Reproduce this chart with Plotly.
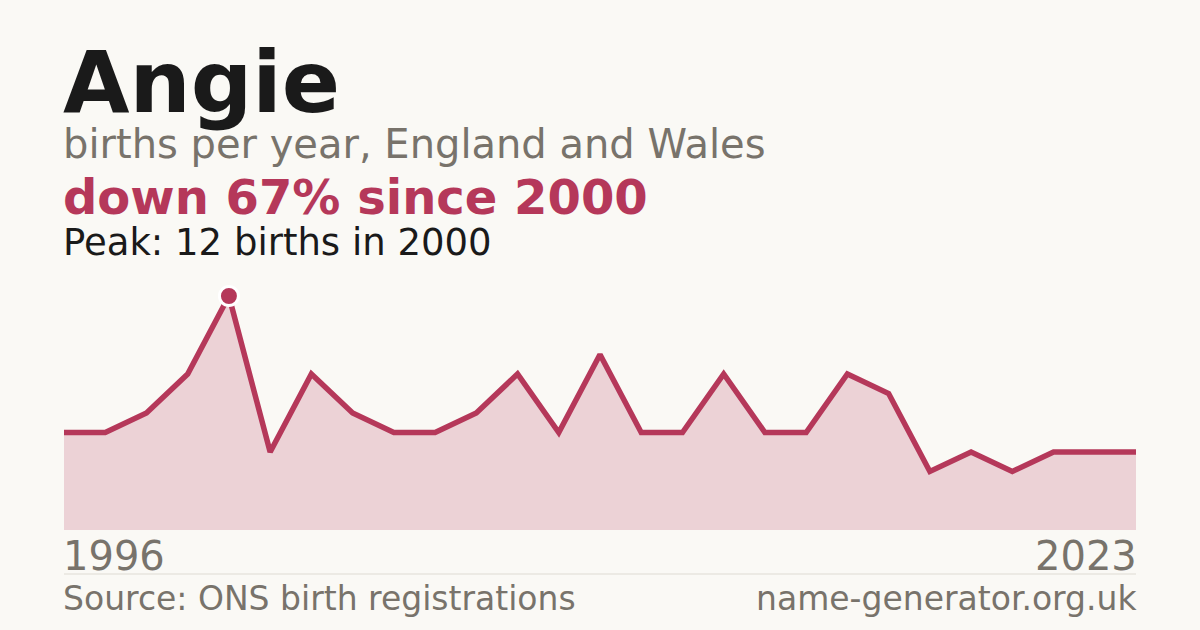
import plotly.graph_objects as go

# births per year for the name, England and Wales
years = list(range(1996, 2023))
births = [5, 5, 6, 8, 12, 4, 8, 6, 5, 5, 6, 8, 5, 9, 5, 5, 8, 5, 5, 8, 7, 3, 4, 3, 4, 4, 4]
first_label = "1996"
last_label = "2023"
peak_year = 2000
peak_value = 12

name = "Angie"
subtitle = "births per year, England and Wales"
headline = "down 67% since 2000"
peak_text = "Peak: 12 births in 2000"
source = "Source: ONS birth registrations"
site = "name-generator.org.uk"

BG = "#faf9f5"
RED = "#b5385a"
GREY = "#78736b"
INK = "#1a1a1a"
FONT = "DejaVu Sans"

W, H = 1200, 630
L, R, T, B = 64, 64, 280, 100


def py(px):
    # pixel row -> paper y
    return (H - B - px) / (H - T - B)


idx = list(range(len(years)))
peak_i = years.index(peak_year)

fig = go.Figure()
fig.add_trace(go.Scatter(
    x=idx, y=births, mode="lines",
    line=dict(color=RED, width=5.5, shape="linear"),
    fill="tozeroy", fillcolor="rgba(181,56,90,0.2)",
    hoverinfo="skip", showlegend=False))
fig.add_trace(go.Scatter(
    x=[peak_i], y=[peak_value], mode="markers",
    marker=dict(color=RED, size=19, line=dict(color="white", width=3)),
    cliponaxis=False, hoverinfo="skip", showlegend=False))

ann = [
    dict(text=f"<b>{name}</b>", y=py(30), size=86, color=INK),
    dict(text=subtitle, y=py(119), size=40, color=GREY),
    dict(text=f"<b>{headline}</b>", y=py(167), size=48, color=RED),
    dict(text=peak_text, y=py(219), size=37, color=INK),
]
for a in ann:
    fig.add_annotation(text=a["text"], xref="paper", yref="paper", x=0, y=a["y"],
                       xanchor="left", yanchor="top", showarrow=False, xshift=-3,
                       font=dict(family=FONT, size=a["size"], color=a["color"]))

for txt, xx, anchor, sh in [(first_label, 0, "left", -3), (last_label, 1, "right", 3)]:
    fig.add_annotation(text=txt, xref="paper", yref="paper", x=xx, y=py(531),
                       xanchor=anchor, yanchor="top", showarrow=False, xshift=sh,
                       font=dict(family=FONT, size=40, color=GREY))
for txt, xx, anchor, sh in [(source, 0, "left", -3), (site, 1, "right", 3)]:
    fig.add_annotation(text=txt, xref="paper", yref="paper", x=xx, y=py(577),
                       xanchor=anchor, yanchor="top", showarrow=False, xshift=sh,
                       font=dict(family=FONT, size=33, color=GREY))

fig.add_shape(type="line", xref="paper", yref="paper", x0=0, x1=1, y0=py(574), y1=py(574),
              line=dict(color="#dedbd3", width=1))

ymax = peak_value * (H - T - B) / (H - B - 296)
fig.update_xaxes(range=[0, len(years) - 1], visible=False, fixedrange=True)
fig.update_yaxes(range=[0, ymax], visible=False, fixedrange=True)
fig.update_layout(width=W, height=H, margin=dict(l=L, r=R, t=T, b=B),
                  paper_bgcolor=BG, plot_bgcolor=BG, showlegend=False)

fig.write_html("out.html", config={"displayModeBar": False},
               post_script="document.body.style.margin='0';document.body.style.overflow='hidden';")
